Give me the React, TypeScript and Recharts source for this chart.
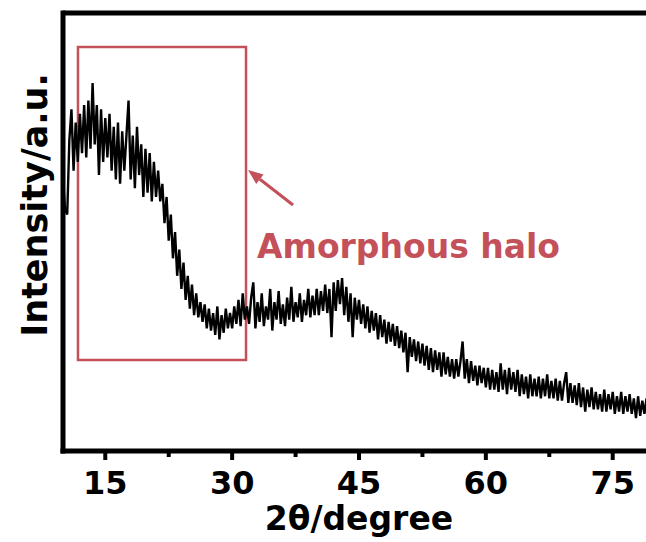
import {
  Label,
  Line,
  LineChart,
  ReferenceArea,
  ReferenceDot,
  ReferenceLine,
  XAxis,
  YAxis,
} from "recharts";

// 2θ sampling grid of the scan
const angleStart = 10;
const angleStep = 0.25;

// intensity (a.u.), one list per 10° stretch
const scan10to20 = [
  62, 55, 54, 71, 78, 64, 75, 66, 77, 68,
  79, 67, 80, 69, 84, 70, 79, 63, 78, 66,
  76, 67, 77, 64, 74, 62, 75, 61, 73, 64,
  72, 80, 62, 72, 60, 74, 63, 70, 58, 69,
];
const scan20to30 = [
  59, 68, 57, 66, 58, 64, 57, 61, 52, 58,
  48, 54, 44, 50, 40, 46, 37, 43, 34.5, 40,
  32.5, 38, 31, 36, 30.5, 34, 29.5, 33.5, 28, 32.5,
  27.5, 31.5, 26.5, 33, 25.5, 31, 27, 32.5, 28, 31.5,
];
const scan30to40 = [
  28, 33, 29, 34.5, 28.5, 36, 30, 33, 29, 35,
  38.5, 28, 34, 29.5, 36, 28.5, 33, 30, 37, 27.5,
  34, 30, 36.5, 29, 33.5, 28.5, 35, 30, 37.5, 29.5,
  34, 30.5, 36, 29.5, 34.5, 31, 37, 30.5, 35.5, 31,
];
const scan40to50 = [
  37, 31, 36.5, 32, 38, 31.5, 37, 26, 38.5, 32,
  39, 33.5, 39.5, 31, 37.5, 29.5, 36, 26, 35, 30,
  34.5, 29, 33.5, 28, 33, 27, 32, 27.5, 31.5, 25.5,
  31, 26, 30, 24.5, 29.5, 25, 29, 24, 28.5, 23.5,
];
const scan50to60 = [
  27.5, 22.5, 27, 18, 26, 21.5, 25.5, 20.5, 25, 20,
  24.5, 19.5, 24, 18.5, 23.5, 18, 23, 18.5, 22.5, 17,
  22.5, 17.5, 21.5, 17, 21, 16.5, 21, 17, 20.5, 25,
  16.5, 21, 15.5, 20.5, 16, 19.5, 15, 19.5, 15.5, 19,
];
const scan60to70 = [
  14.5, 19, 14, 18.5, 14, 18, 13.5, 20, 14, 18.5,
  13, 19, 14, 18, 13.5, 18.5, 12.5, 17.5, 13, 17,
  12, 17.5, 12.5, 16.5, 12.5, 17, 12, 16.5, 12.5, 17.5,
  12, 16, 12, 16.5, 11.5, 16, 11.5, 15.5, 18, 11,
];
const scan70to80 = [
  15.5, 11, 15, 10.5, 15.5, 10, 14.5, 9, 14, 10,
  14.5, 9.5, 13.5, 9.5, 13, 9, 14, 9, 13, 9.5,
  13.5, 8.5, 12.5, 9, 13.5, 8.5, 12.5, 9, 13, 8.5,
  12, 7.5, 12.5, 8, 11.5, 8.5, 12, 8, 11, 8.5,
  11,
];

const xTicks = [15, 22.5, 30, 37.5, 45, 52.5, 60, 67.5, 75];

const intensity = [
  ...scan10to20,
  ...scan20to30,
  ...scan30to40,
  ...scan40to50,
  ...scan50to60,
  ...scan60to70,
  ...scan70to80,
];
const data = intensity.map((value, i) => ({
  angle: angleStart + i * angleStep,
  value,
}));

const FONT = "'DejaVu Sans', Verdana, sans-serif";
const RED = "#c4505a";

function AngleTick({ x, y, payload }: any) {
  const major = payload.value % 15 === 0;
  return (
    <g>
      <line
        x1={x}
        x2={x}
        y1={y}
        y2={y + (major ? 9 : 6)}
        stroke="#000"
        strokeWidth={4}
      />
      {major && (
        <text
          x={x}
          y={y + 43}
          textAnchor="middle"
          fontFamily={FONT}
          fontWeight="bold"
          fontSize={32}
          fill="#000"
        >
          {payload.value}
        </text>
      )}
    </g>
  );
}

function Arrow({ x1, y1, x2, y2 }: any) {
  // head sits on (x1,y1), tail at (x2,y2)
  const ang = Math.atan2(y1 - y2, x1 - x2);
  const len = 15;
  const half = 6;
  const bx = x1 - len * Math.cos(ang);
  const by = y1 - len * Math.sin(ang);
  const px = -Math.sin(ang) * half;
  const py = Math.cos(ang) * half;
  return (
    <g>
      <line x1={bx} y1={by} x2={x2} y2={y2} stroke={RED} strokeWidth={3} />
      <polygon
        points={`${x1},${y1} ${bx + px},${by + py} ${bx - px},${by - py}`}
        fill={RED}
      />
    </g>
  );
}

export default function App() {
  return (
    <div
      style={{
        position: "fixed",
        left: 0,
        top: 0,
        width: 646,
        height: 542,
        overflow: "hidden",
        background: "#fff",
      }}
    >
      <LineChart
        width={660}
        height={542}
        data={data}
        margin={{ top: 13, right: 5, left: 0, bottom: 0 }}
      >
        <XAxis
          dataKey="angle"
          type="number"
          domain={[10, 80]}
          ticks={xTicks}
          allowDataOverflow
          height={91}
          tickSize={0}
          tickMargin={0}
          tickLine={false}
          tick={<AngleTick />}
          axisLine={{ stroke: "#000", strokeWidth: 5, strokeLinecap: "square" }}
        >
          <Label
            value="2θ/degree"
            position="insideBottom"
            offset={12}
            style={{
              fontFamily: FONT,
              fontWeight: "bold",
              fontSize: 33,
              fill: "#000",
            }}
          />
        </XAxis>
        <YAxis
          type="number"
          domain={[0, 100]}
          width={63}
          tick={false}
          tickLine={false}
          axisLine={{ stroke: "#000", strokeWidth: 5, strokeLinecap: "square" }}
        >
          <Label
            content={() => (
              <text
                x={47}
                y={205}
                transform="rotate(-90, 47, 205)"
                textAnchor="middle"
                fontFamily={FONT}
                fontWeight="bold"
                fontSize={35}
                fill="#000"
              >
                Intensity/a.u.
              </text>
            )}
          />
        </YAxis>
        <ReferenceLine y={100} stroke="#000" strokeWidth={5} />
        <ReferenceLine x={80} stroke="#000" strokeWidth={5} />
        <ReferenceArea
          x1={11.77}
          x2={31.64}
          y1={20.78}
          y2={92.24}
          fill="none"
          stroke={RED}
          strokeWidth={2.5}
        />
        <Line
          type="linear"
          dataKey="value"
          stroke="#000"
          strokeWidth={2.4}
          strokeLinejoin="miter"
          dot={false}
          isAnimationActive={false}
        />
        <ReferenceLine
          segment={[
            { x: 31.88, y: 64.16 },
            { x: 37.2, y: 56.16 },
          ]}
          shape={(p: any) => <Arrow {...p} />}
        />
        <ReferenceDot
          x={32.94}
          y={44.06}
          r={0}
          shape={(p: any) => (
            <text
              x={p.cx}
              y={p.cy}
              fontFamily={FONT}
              fontWeight="bold"
              fontSize={33}
              fill={RED}
            >
              Amorphous halo
            </text>
          )}
        />
      </LineChart>
    </div>
  );
}
